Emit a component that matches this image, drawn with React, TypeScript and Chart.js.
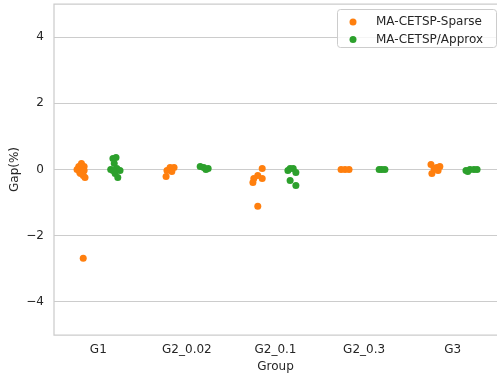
import { useEffect, useRef } from "react";
import { Chart, registerables } from "chart.js";

Chart.register(...registerables);

const groups = ["G1", "G2_0.02", "G2_0.1", "G2_0.3", "G3"];
const yTicks = [-4, -2, 0, 2, 4];
const seriesNames = ["MA-CETSP-Sparse", "MA-CETSP/Approx"];
const seriesColors = ["#ff7f0e", "#2ca02c"];

// MA-CETSP-Sparse: group index, strip jitter (category units), gap (%)
const sparseGroup = [0, 0, 0, 0, 0, 0, 0, 0, 0, 0, 1, 1, 1, 1, 1, 2, 2, 2, 2, 2, 2, 3, 3, 3, 4, 4, 4, 4, 4, 4];
const sparseJitter = [-0.22, -0.19, -0.16, -0.24, -0.21, -0.17, -0.15, -0.2, -0.16, -0.17, -0.235, -0.225, -0.19, -0.145, -0.17, -0.15, -0.2, -0.245, -0.255, -0.15, -0.2, -0.26, -0.215, -0.17, -0.245, -0.18, -0.145, -0.235, -0.21, -0.165];
const sparseGap = [0.09, 0.18, 0.09, 0.0, -0.09, -0.18, -0.24, -0.12, -0.03, -2.68, -0.21, -0.03, 0.06, 0.06, -0.06, 0.03, -0.18, -0.27, -0.39, -0.27, -1.11, 0.0, 0.0, 0.0, 0.15, 0.06, 0.09, -0.12, 0.03, -0.03];

// MA-CETSP/Approx
const approxGroup = [0, 0, 0, 0, 0, 0, 0, 0, 0, 1, 1, 1, 1, 2, 2, 2, 2, 2, 2, 3, 3, 3, 4, 4, 4, 4, 4];
const approxJitter = [0.165, 0.2, 0.18, 0.14, 0.21, 0.245, 0.19, 0.22, 0.165, 0.15, 0.19, 0.24, 0.215, 0.165, 0.2, 0.23, 0.165, 0.23, 0.14, 0.17, 0.2, 0.235, 0.15, 0.195, 0.24, 0.275, 0.17];
const approxGap = [0.33, 0.36, 0.18, 0.0, 0.03, -0.03, -0.12, -0.24, -0.03, 0.09, 0.06, 0.03, 0.0, 0.03, 0.03, -0.09, -0.33, -0.48, -0.03, 0.0, 0.0, 0.0, -0.03, 0.0, 0.0, 0.0, -0.06];

const FONT = "'DejaVu Sans', sans-serif";
const TEXT = "#262626";
const EDGE = "#cccccc";

function toPoints(g: number[], j: number[], v: number[]) {
  return v.map((y, i) => ({ x: g[i] + j[i], y }));
}

const framePlugin = {
  id: "frame",
  beforeDatasetsDraw(chart: any) {
    const { ctx, chartArea } = chart;
    const { left, top, right, bottom } = chartArea;
    ctx.save();
    ctx.strokeStyle = EDGE;
    ctx.lineWidth = 1.25;
    ctx.beginPath();
    ctx.moveTo(right + 2, top);
    ctx.lineTo(left, top);
    ctx.lineTo(left, bottom);
    ctx.lineTo(right + 2, bottom);
    ctx.stroke();
    ctx.restore();
  },
  afterDraw(chart: any) {
    const { ctx, chartArea } = chart;
    const w = 159;
    const h = 38;
    const x = chartArea.right - 1 - w;
    const y = chartArea.top + 5;
    ctx.save();
    ctx.beginPath();
    ctx.roundRect(x + 0.5, y + 0.5, w, h, 3);
    ctx.fillStyle = "rgba(255,255,255,0.8)";
    ctx.fill();
    ctx.strokeStyle = EDGE;
    ctx.lineWidth = 1;
    ctx.stroke();
    ctx.font = `12px ${FONT}`;
    ctx.textBaseline = "middle";
    ctx.textAlign = "left";
    seriesNames.forEach((name, i) => {
      const cy = y + 13 + i * 17.5;
      ctx.beginPath();
      ctx.arc(x + 16, cy, 3.5, 0, Math.PI * 2);
      ctx.fillStyle = seriesColors[i];
      ctx.fill();
      ctx.fillStyle = TEXT;
      ctx.fillText(name, x + 39, cy);
    });
    ctx.restore();
  },
};

export default function App() {
  const ref = useRef<HTMLCanvasElement | null>(null);
  useEffect(() => {
    if (!ref.current) return;
    const chart = new Chart(ref.current, {
      type: "scatter",
      data: {
        datasets: [
          {
            label: seriesNames[0],
            data: toPoints(sparseGroup, sparseJitter, sparseGap),
            backgroundColor: seriesColors[0],
            borderWidth: 0,
            pointRadius: 3.5,
          },
          {
            label: seriesNames[1],
            data: toPoints(approxGroup, approxJitter, approxGap),
            backgroundColor: seriesColors[1],
            borderWidth: 0,
            pointRadius: 3.5,
          },
        ],
      },
      options: {
        responsive: false,
        animation: false,
        layout: { autoPadding: false, padding: { top: 4, right: 0, left: 0, bottom: 0 } },
        plugins: { legend: { display: false }, tooltip: { enabled: false } },
        scales: {
          x: {
            type: "linear",
            min: -0.5,
            max: 4.5,
            afterBuildTicks: (s: any) => {
              s.ticks = groups.map((_, i) => ({ value: i }));
            },
            afterFit: (s: any) => {
              s.height = 45;
              s.paddingLeft = 0;
              s.paddingRight = 0;
            },
            grid: { display: false, drawTicks: false },
            border: { display: false },
            ticks: {
              padding: 8,
              color: TEXT,
              font: { family: FONT, size: 12 },
              maxRotation: 0,
              autoSkip: false,
              callback: (v: any) => groups[Math.round(Number(v))] ?? "",
            },
            title: {
              display: true,
              text: "Group",
              color: TEXT,
              font: { family: FONT, size: 12 },
              padding: { top: 0, bottom: 6 },
            },
          },
          y: {
            min: -5,
            max: 5,
            afterBuildTicks: (s: any) => {
              s.ticks = yTicks.map((v) => ({ value: v }));
            },
            afterFit: (s: any) => {
              s.width = 54;
              s.paddingTop = 0;
              s.paddingBottom = 0;
            },
            grid: { color: EDGE, lineWidth: 1, drawTicks: false },
            border: { display: false },
            ticks: {
              padding: 10,
              color: TEXT,
              font: { family: FONT, size: 12 },
              callback: (v: any) => (Number(v) < 0 ? "\u2212" + Math.abs(Number(v)) : String(v)),
            },
            title: {
              display: true,
              text: "Gap(%)",
              color: TEXT,
              font: { family: FONT, size: 12 },
              padding: { top: 8, bottom: 0 },
            },
          },
        },
      },
      plugins: [framePlugin],
    });
    return () => chart.destroy();
  }, []);
  return (
    <canvas
      ref={ref}
      width={497}
      height={380}
      style={{ position: "fixed", left: 0, top: 0, width: 497, height: 380, display: "block" }}
    />
  );
}
